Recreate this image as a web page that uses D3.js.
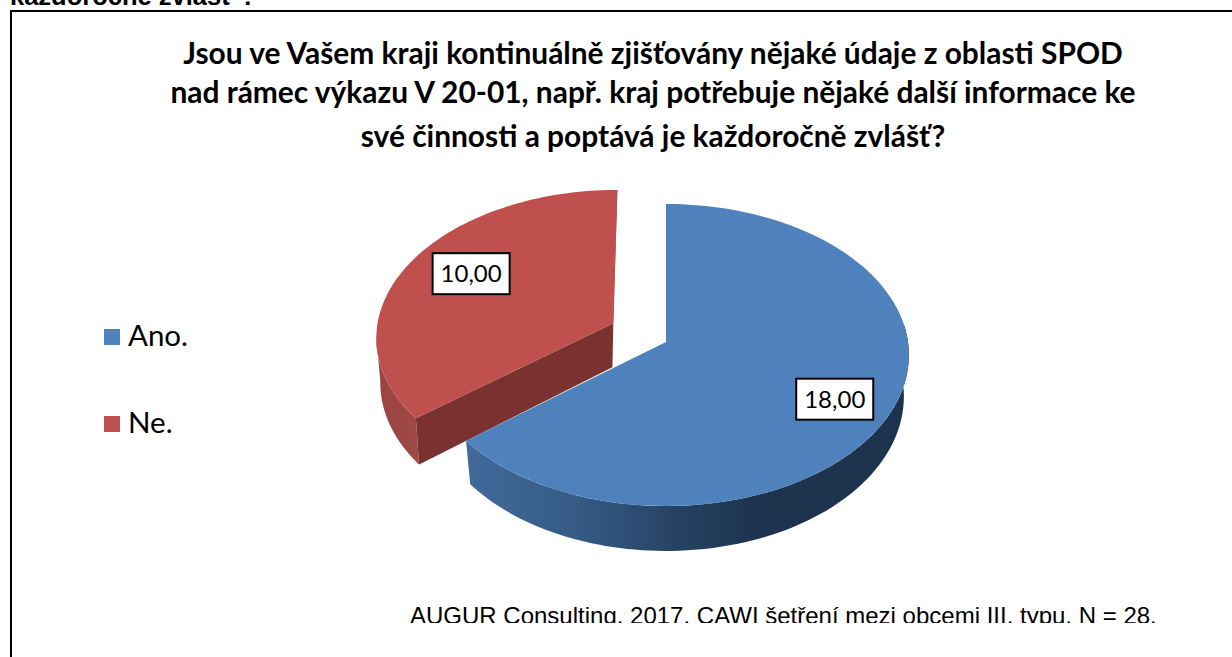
<!DOCTYPE html>
<html><head><meta charset="utf-8">
<script src="https://cdn.jsdelivr.net/npm/d3@7/dist/d3.min.js"></script>
<style>html,body{margin:0;padding:0;background:#fff;overflow:hidden}svg{display:block}</style>
</head><body>
<script>
const categories = ["Ano.", "Ne."];
const values = [18, 10];
const labels = ["18,00", "10,00"];
const titleLines = [
  "Jsou ve Vašem kraji kontinuálně zjišťovány nějaké údaje z oblasti SPOD",
  "nad rámec výkazu V 20-01, např. kraj potřebuje nějaké další informace ke",
  "své činnosti a poptává je každoročně zvlášť?"
];
const clippedCaption = "každoročně zvlášť ?";
const footnote = "AUGUR Consulting. 2017. CAWI šetření mezi obcemi III. typu. N = 28.";

const W = 1232, H = 657;
const svg = d3.select("body").append("svg").attr("width", W).attr("height", H);
const defs = svg.append("defs");

// page caption cut off by the top edge
svg.append("text").attr("x", 10).attr("y", 5)
  .attr("font-family", "Liberation Sans").attr("font-weight", "bold").attr("font-size", 25.5)
  .attr("fill", "#000").text(clippedCaption);

// chart frame
svg.append("path").attr("d", `M11,${H + 5}V11H${W + 5}`).attr("fill", "none").attr("stroke", "#000").attr("stroke-width", 2);

// title
const titleBaselines = [64, 103, 147];
svg.append("g").selectAll("text").data(titleLines).join("text")
  .attr("x", 653).attr("y", (d, i) => titleBaselines[i]).attr("text-anchor", "middle")
  .attr("font-family", "Lato").attr("font-weight", "bold").attr("font-size", 29.9)
  .attr("fill", "#000").text(d => d);

// perspective projection of the pie plane
const P = 0.0861;
const top3d = { x: 666, y: 342, a: 242, b: 149.9 };
const bot3d = { x: 666, y: 383, a: 237, b: 153.5 };
const proj = (pl, u, v) => {
  const k = 1 - P * v;
  return [pl.x + pl.a * u / k, pl.y + pl.b * v / k];
};
const explode = [[0, 0], [-0.22, -0.127]];
const sliceScale = [1, 0.985];
const wallShift = [[0, 0], [-2, 3.5]];
const pt = (pl, i, ang, r = 1) => {
  const p = proj(pl, explode[i][0] + r * sliceScale[i] * Math.sin(ang), explode[i][1] - r * sliceScale[i] * Math.cos(ang));
  return pl === bot3d ? [p[0] + wallShift[i][0], p[1] + wallShift[i][1]] : p;
};
const arcPts = (pl, i, a0, a1) => {
  const n = 90;
  const s = d3.scaleLinear().domain([0, n]).range([a0, a1]);
  return d3.range(n + 1).map(k => pt(pl, i, s(k)));
};
const line = d3.line();
const arcs = d3.pie().sort(null).startAngle(0).endAngle(2 * Math.PI)(values);
const colorTop = d3.scaleOrdinal().domain(categories).range(["#4f81bd", "#c0504d"]);

function grad(id, stops, x1, x2) {
  const g = defs.append("linearGradient").attr("id", id).attr("gradientUnits", "userSpaceOnUse")
    .attr("x1", x1).attr("x2", x2).attr("y1", 0).attr("y2", 0);
  stops.forEach(s => g.append("stop").attr("offset", s[0]).attr("stop-color", s[1]));
}
grad("blueWall", [[0, "#41699a"], [0.25, "#355a85"], [0.5, "#24405f"], [0.66, "#1d334e"], [1, "#1c324d"]], 468, 908);
grad("redWall", [[0, "#9a4341"], [1, "#a04a48"]], 376, 420);

const pie = svg.append("g");

// Ne. slice (behind)
const red = arcs[1];
pie.append("path").attr("fill", "url(#redWall)")
  .attr("d", line([...arcPts(top3d, 1, red.startAngle, 4.62), ...arcPts(bot3d, 1, 4.62, red.startAngle)]) + "Z");
pie.append("path").attr("fill", "#7a3230")
  .attr("d", line([pt(top3d, 1, red.startAngle), pt(top3d, 1, 0, 0), pt(bot3d, 1, 0, 0), pt(bot3d, 1, red.startAngle)]) + "Z");
pie.append("path").attr("fill", "#a8484a")
  .attr("d", line([pt(top3d, 1, 0, 0), pt(top3d, 1, 0), [pt(top3d, 1, 0)[0] - 1.5, pt(top3d, 1, 0)[1]], [pt(top3d, 1, 0, 0)[0] - 1.5, pt(top3d, 1, 0, 0)[1]]]) + "Z");
pie.append("path").attr("fill", colorTop(categories[1]))
  .attr("d", line([pt(top3d, 1, 0, 0), ...arcPts(top3d, 1, red.startAngle, red.endAngle)]) + "Z");

// Ano. slice (front)
const blue = arcs[0];
pie.append("path").attr("fill", "url(#blueWall)")
  .attr("d", line([...arcPts(top3d, 0, 1.45, blue.endAngle), ...arcPts(bot3d, 0, blue.endAngle, 1.45)]) + "Z");
pie.append("path").attr("fill", colorTop(categories[0]))
  .attr("d", line([pt(top3d, 0, 0, 0), ...arcPts(top3d, 0, blue.startAngle, blue.endAngle)]) + "Z");

// data labels
const labelRadius = [0.75, 0.695], labelShift = [7, -7];
const lab = svg.append("g").selectAll("g").data(arcs).join("g")
  .attr("transform", (d, i) => {
    const p = pt(top3d, i, (d.startAngle + d.endAngle) / 2, labelRadius[i]);
    return `translate(${p[0]},${p[1] + labelShift[i]})`;
  });
lab.append("rect").attr("x", -38).attr("y", -20.5).attr("width", 77).attr("height", 41)
  .attr("fill", "#fff").attr("stroke", "#000").attr("stroke-width", 2);
lab.append("text").attr("x", 0.5).attr("y", 8.5).attr("text-anchor", "middle")
  .attr("font-family", "Lato").attr("font-size", 24).attr("fill", "#000")
  .text((d, i) => labels[i]);

// legend
const legendY = d3.scalePoint().domain(categories).range([337, 424]);
const leg = svg.append("g").selectAll("g").data(categories).join("g")
  .attr("transform", d => `translate(104,${legendY(d)})`);
leg.append("rect").attr("x", 0).attr("y", -8).attr("width", 16).attr("height", 16).attr("fill", d => colorTop(d));
leg.append("text").attr("x", 24).attr("y", 9).attr("font-family", "Lato").attr("font-size", 29.5)
  .attr("fill", "#000").text(d => d);

// source note, cut along its descenders
defs.append("clipPath").attr("id", "noteClip").append("rect").attr("x", 0).attr("y", 590).attr("width", W).attr("height", 33);
svg.append("text").attr("x", 410).attr("y", 624).attr("clip-path", "url(#noteClip)")
  .attr("font-family", "Liberation Sans").attr("font-size", 24).attr("fill", "#000").text(footnote);
</script>
</body></html>
